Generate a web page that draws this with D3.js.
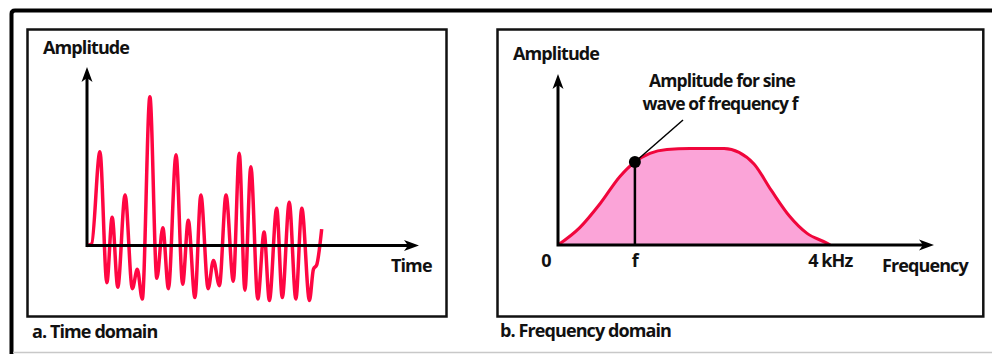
<!DOCTYPE html>
<html>
<head>
<meta charset="utf-8">
<script src="https://cdn.jsdelivr.net/npm/d3@7"></script>
<style>
  body { margin: 0; background: #fff; }
  svg { display: block; }
  text { font-family: "Open Sans", sans-serif; font-weight: 700; fill: #111; }
</style>
</head>
<body>
<div id="chart-area"></div>
<script>
// time domain signal: time (arbitrary units) and amplitude (largest peak = 1)
var timeT = [0, 0.14, 0.39, 0.60, 0.76, 0.93, 1.15, 1.37, 1.52, 1.67, 1.90, 2.11, 2.29, 2.46, 2.69, 2.89,
    3.06, 3.26, 3.44, 3.66, 3.82, 4.00, 4.20, 4.42, 4.60, 4.77, 4.95, 5.16, 5.35, 5.51, 5.73, 5.90,
    6.11, 6.31, 6.49, 6.72, 6.84, 6.94, 7.09];
var timeAmp = [0, 0.01, 0.63, -0.25, 0.19, -0.28, 0.34, -0.29, -0.16, -0.36, 1.00, -0.22, 0.12, -0.29, 0.61, -0.26,
    0.17, -0.35, 0.34, -0.29, -0.10, -0.27, 0.34, -0.24, 0.62, -0.30, 0.53, -0.36, 0.09, -0.37, 0.25, -0.35,
    0.29, -0.36, 0.25, -0.37, -0.16, -0.13, 0.11];

// frequency domain spectrum: kHz and amplitude (plateau = 1)
var freqKHz = [0, 0.32, 0.62, 0.91, 1.13, 1.35, 1.60, 1.94, 2.44, 2.66, 2.88, 3.14, 3.40, 3.66, 3.95, 4.0];
var freqAmp = [0, 0.18, 0.43, 0.71, 0.86, 0.95, 0.99, 1.0, 1.0, 0.96, 0.84, 0.56, 0.30, 0.12, 0.02, 0];
var markFreq = 1.13;
var freqTicks = [0, markFreq, 4];
var freqTickLabels = ["0", "f", "4 kHz"];

var width = 992, height = 354;

var svg = d3.select("#chart-area")
    .append("svg")
        .attr("width", width)
        .attr("height", height);

// outer frame
svg.append("path")
    .attr("d", "M11.5,354 L11.5,14 Q11.5,10.5 15,10.5 L995,10.5")
    .attr("fill", "none")
    .attr("stroke", "#000")
    .attr("stroke-width", 4);
svg.append("line")
    .attr("x1", 13).attr("x2", 992)
    .attr("y1", 352.5).attr("y2", 352.5)
    .attr("stroke", "#c8c8c8")
    .attr("stroke-width", 1.5);

// panel boxes
[[27.5, 446.5], [497.5, 983.3]].forEach(function(b) {
    svg.append("rect")
        .attr("x", b[0]).attr("y", 29.5)
        .attr("width", b[1] - b[0]).attr("height", 287)
        .attr("fill", "none")
        .attr("stroke", "#111")
        .attr("stroke-width", 2.5);
});

function arrowHead(x, y, angle) {
    svg.append("path")
        .attr("d", "M0,0 L-15,-5.5 L-11,0 L-15,5.5 Z")
        .attr("transform", "translate(" + x + "," + y + ") rotate(" + angle + ")")
        .attr("fill", "#000");
}

function arrowAxes(xs, ys, xTip, yTip) {
    var x0 = xs.range()[0], y0 = ys(0);
    svg.append("path")
        .attr("d", "M" + x0 + "," + (yTip + 6) + " L" + x0 + "," + y0 + " L" + (xTip - 6) + "," + y0)
        .attr("fill", "none")
        .attr("stroke", "#000")
        .attr("stroke-width", 3);
    arrowHead(x0, yTip, -90);
    arrowHead(xTip, y0, 0);
}

function label(x, y, str, size, anchor) {
    return svg.append("text")
        .attr("x", x).attr("y", y)
        .attr("font-size", size + "px")
        .attr("letter-spacing", "-0.9px")
        .attr("text-anchor", anchor || "start")
        .text(str);
}

// ---------- a. Time domain ----------
var xT = d3.scaleLinear().domain([0, 10]).range([87, 418]);
var yT = d3.scaleLinear().domain([0, 1]).range([245.5, 96.7]);

var timeData = timeT.map(function(t, i) { return { t: t, a: timeAmp[i] }; });

svg.append("path")
    .datum(timeData)
    .attr("fill", "none")
    .attr("stroke", "#ff0642")
    .attr("stroke-width", 3.5)
    .attr("stroke-linejoin", "round")
    .attr("d", d3.line()
        .x(function(d) { return xT(d.t); })
        .y(function(d) { return yT(d.a); })
        .curve(d3.curveMonotoneX));

arrowAxes(xT, yT, 419, 67);

label(43, 54, "Amplitude", 18);
label(391, 272, "Time", 18);
label(32, 338, "a. Time domain", 18);

// ---------- b. Frequency domain ----------
var xF = d3.scaleLinear().domain([0, 5.51]).range([558, 933]);
var yF = d3.scaleLinear().domain([0, 1]).range([245, 148.5]);

var freqData = freqKHz.map(function(f, i) { return { f: f, a: freqAmp[i] }; });

svg.append("path")
    .datum(freqData)
    .attr("fill", "#fba4d8")
    .attr("d", d3.area()
        .x(function(d) { return xF(d.f); })
        .y0(yF(0))
        .y1(function(d) { return yF(d.a); })
        .curve(d3.curveMonotoneX));

svg.append("path")
    .datum(freqData)
    .attr("fill", "none")
    .attr("stroke", "#f0063c")
    .attr("stroke-width", 3)
    .attr("d", d3.line()
        .x(function(d) { return xF(d.f); })
        .y(function(d) { return yF(d.a); })
        .curve(d3.curveMonotoneX));

arrowAxes(xF, yF, 934, 74);

// marker at frequency f
var markAmp = freqAmp[freqKHz.indexOf(markFreq)];
svg.append("line")
    .attr("x1", xF(markFreq)).attr("x2", xF(markFreq))
    .attr("y1", yF(markAmp)).attr("y2", yF(0))
    .attr("stroke", "#000").attr("stroke-width", 2.5);
svg.append("line")
    .attr("x1", xF(markFreq)).attr("y1", yF(markAmp))
    .attr("x2", 683).attr("y2", 120)
    .attr("stroke", "#000").attr("stroke-width", 1.5);
svg.append("circle")
    .attr("cx", xF(markFreq)).attr("cy", yF(markAmp))
    .attr("r", 6)
    .attr("fill", "#000");

label(722, 87, "Amplitude for sine", 17.5, "middle");
label(720, 110, "wave of frequency f", 17.5, "middle");

freqTicks.forEach(function(v, i) {
    label(xF(v) + (v === 0 ? -12 : 0), 267, freqTickLabels[i], 18, "middle");
});

label(513, 60, "Amplitude", 18);
label(882, 272, "Frequency", 18);
label(500, 337, "b. Frequency domain", 18);
</script>
</body>
</html>
